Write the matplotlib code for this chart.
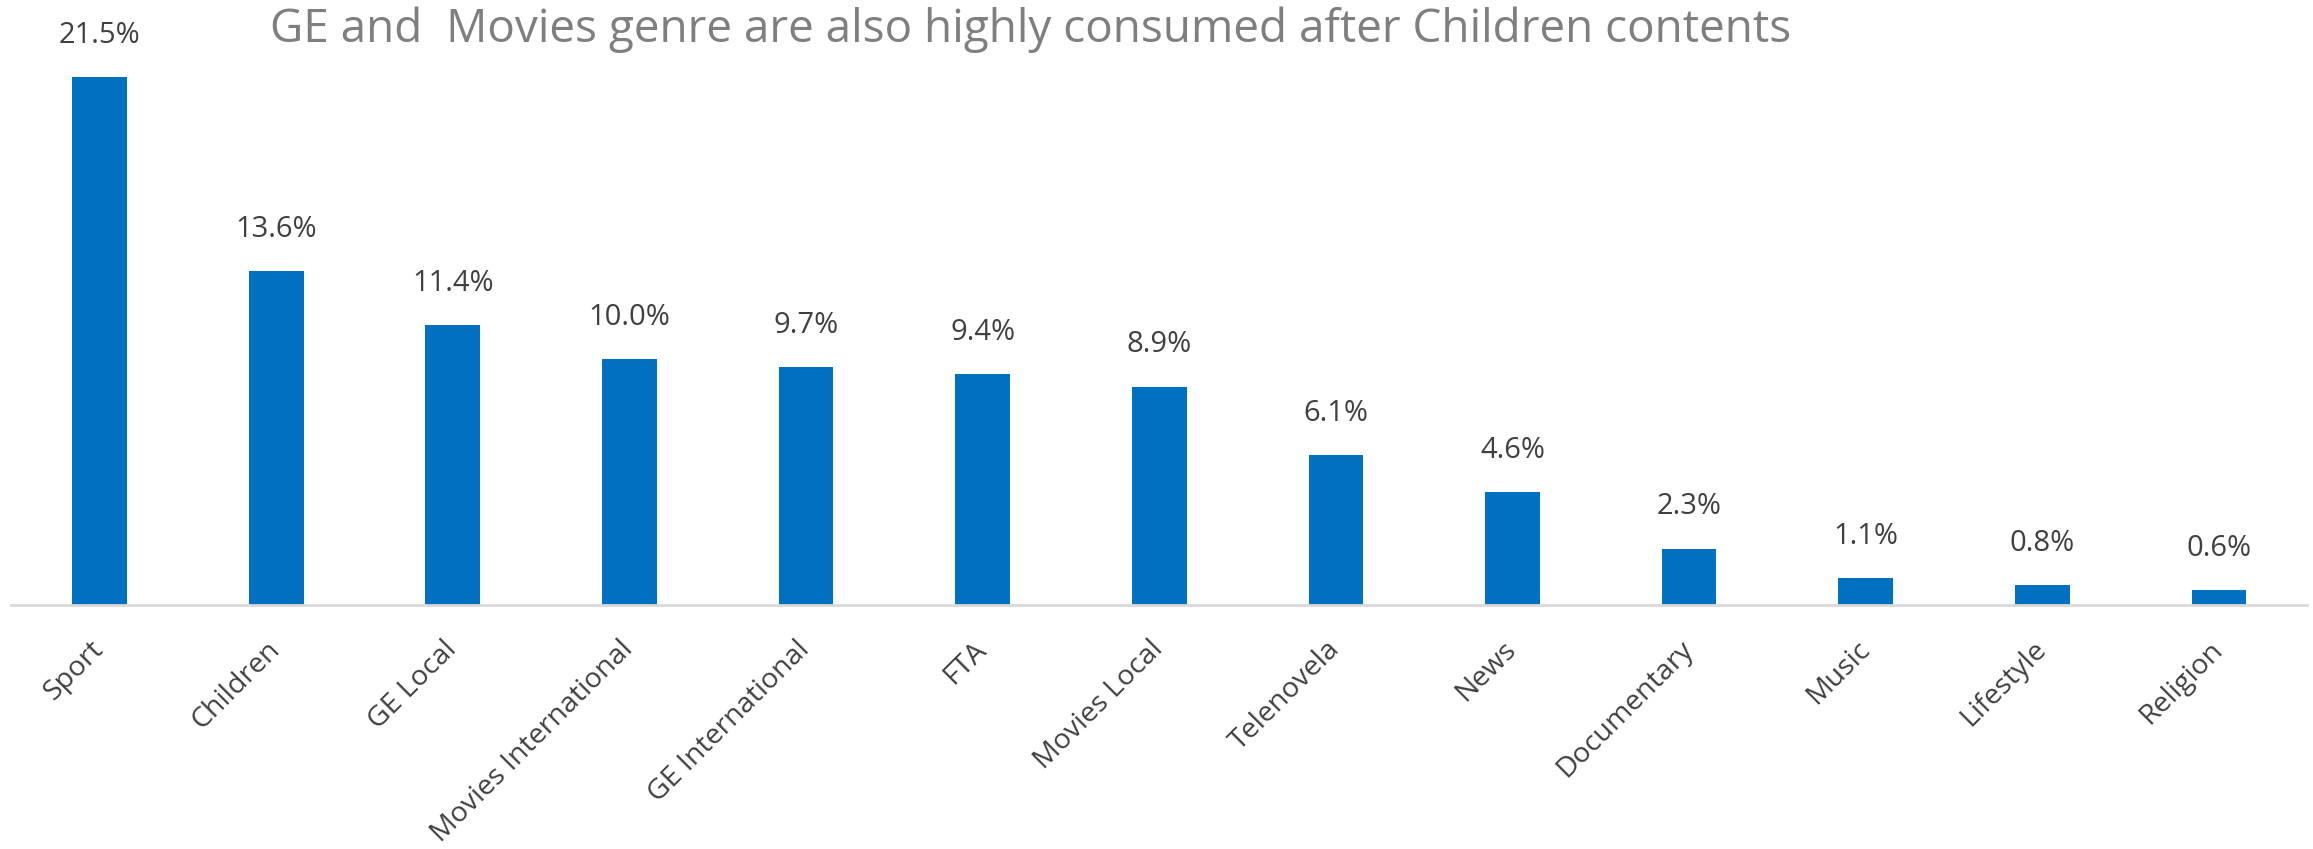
import matplotlib.pyplot as plt
import matplotlib.transforms as mtransforms
import numpy as np

genres = ["Sport", "Children", "GE Local", "Movies International", "GE International",
          "FTA", "Movies Local", "Telenovela", "News", "Documentary", "Music",
          "Lifestyle", "Religion"]
shares = [21.5, 13.6, 11.4, 10.0, 9.7, 9.4, 8.9, 6.1, 4.6, 2.3, 1.1, 0.8, 0.6]
title = "GE and  Movies genre are also highly consumed after Children contents"

plt.rcParams['font.family'] = ['Open Sans', 'DejaVu Sans']

fig = plt.figure(figsize=(23.13, 8.49), dpi=100)
ax = fig.add_axes([0.0049, 0.2874, 0.9926, 0.694])

x = np.arange(len(genres))
bars = ax.bar(x, shares, width=0.31, color="#0070C0")

for b, v in zip(bars, shares):
    ax.annotate(f"{v:.1f}%", (b.get_x() + b.get_width() / 2, v),
                xytext=(0, 30), textcoords="offset points",
                ha="center", va="center", fontsize=21, color="#404040")

ax.set_xlim(-0.5, len(genres) - 0.5)
ax.set_ylim(0, 24)
ax.set_xticks(x)
ax.set_xticklabels(genres, rotation=45, ha="right", fontsize=20.5, color="#404040")
ax.tick_params(axis="x", length=0, pad=22)
# nudge the rotated labels a little to the right, like the original
shift = mtransforms.ScaledTranslation(7 / 72, 0, fig.dpi_scale_trans)
for lbl in ax.get_xticklabels():
    lbl.set_transform(lbl.get_transform() + shift)
ax.set_yticks([])
for side in ["top", "right", "left"]:
    ax.spines[side].set_visible(False)
ax.spines["bottom"].set_color("#d9d9d9")
ax.spines["bottom"].set_linewidth(2)

fig.text(270 / 2313, 1 - 30 / 849, title, ha="left", va="center",
         fontsize=33, color="#7f7f7f")

fig.savefig("out.png", dpi=100)
